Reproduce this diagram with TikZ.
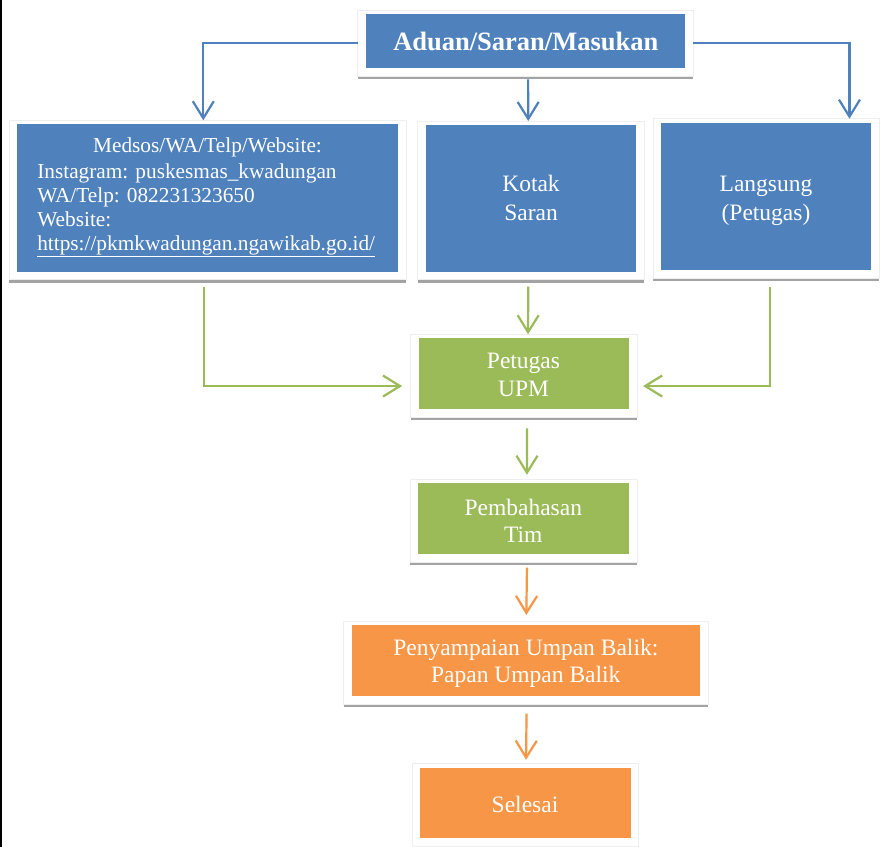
\documentclass[tikz,border=0pt]{standalone}
\usepackage{fontspec}
\setmainfont{Liberation Serif}
\usetikzlibrary{arrows.meta,fit}
\definecolor{cblue}{HTML}{4F81BD}
\definecolor{cgreen}{HTML}{9BBB59}
\definecolor{corange}{HTML}{F79646}
\definecolor{cshadow}{HTML}{A3A3A3}
\definecolor{cframe}{HTML}{EEEEEE}
\newcommand\mkpanel[6]{%
  \fill[cshadow] (#2-8,#5+8) rectangle (#4+8,#5+11);
  \node[panelframe, fit={(#2-8,#3-4) (#4+8,#5+8)}] (#1) {};
  \node[fill=#6, inner sep=0pt, outer sep=0pt, fit={(#2,#3) (#4,#5)}] (#1-fill) {};
}
\tikzset{
  panelframe/.style={draw=cframe, fill=white, line width=0.6bp, inner sep=0pt, outer sep=0pt},
  txt/.style={text=white, inner sep=0pt, outer sep=0pt},
  conn/.style={line width=2.2bp, -{Straight Barb[length=17bp,width=21bp]}},
  barrow/.style={conn, draw=cblue},
  garrow/.style={conn, draw=cgreen},
  oarrow/.style={conn, draw=corange},
}
\begin{document}
\begin{tikzpicture}[x=1bp,y=-1bp]
\useasboundingbox (0,0) rectangle (881,847);
\fill[white] (0,0) rectangle (881,847);
\draw[black, line width=1.6bp] (0.8,0) -- (0.8,847);

% panels: name, x1, y1, x2, y2 (fill area), colour
\mkpanel{top}{365.7}{14.3}{685}{68.3}{cblue}
\mkpanel{medsos}{17}{124.3}{398}{271.7}{cblue}
\mkpanel{kotak}{425.7}{125}{636}{271.7}{cblue}
\mkpanel{langsung}{661}{122.7}{871.3}{270.3}{cblue}
\mkpanel{upm}{418.5}{338.3}{629}{409.3}{cgreen}
\mkpanel{pemb}{418.3}{483.3}{629}{554.3}{cgreen}
\mkpanel{peny}{351.7}{625}{700}{696}{corange}
\mkpanel{sel}{420}{767.7}{630.7}{838.3}{corange}

% texts
\node[txt, anchor=base, font=\bfseries\fontsize{26.5bp}{30bp}\selectfont] (top-t) at (525.8,50) {Aduan/Saran/Masukan};
\node[txt, anchor=base, font=\fontsize{21.3bp}{24.1bp}\selectfont] (medsos-t1) at (207.5,152.7) {Medsos/WA/Telp/Website:};
\node[txt, anchor=base west, font=\fontsize{21.3bp}{24.1bp}\selectfont] (medsos-t2) at (37.3,178.3)
  {\begin{tabular}[t]{@{}l@{}}Instagram: puskesmas\_kwadungan\\WA/Telp: 082231323650\\Website:\\\underline{https://pkmkwadungan.ngawikab.go.id/}\end{tabular}};
\node[txt, anchor=base, font=\fontsize{23.5bp}{29bp}\selectfont] (kotak-t) at (531,191.7)
  {\begin{tabular}[t]{@{}c@{}}Kotak\\Saran\end{tabular}};
\node[txt, anchor=base, font=\fontsize{23.5bp}{29bp}\selectfont] (langsung-t) at (766,191)
  {\begin{tabular}[t]{@{}c@{}}Langsung\\(Petugas)\end{tabular}};
\node[txt, anchor=base, font=\fontsize{23.5bp}{28.5bp}\selectfont] (upm-t) at (523.5,368)
  {\begin{tabular}[t]{@{}c@{}}Petugas\\UPM\end{tabular}};
\node[txt, anchor=base, font=\fontsize{23.5bp}{27bp}\selectfont] (pemb-t) at (523.3,515)
  {\begin{tabular}[t]{@{}c@{}}Pembahasan\\Tim\end{tabular}};
\node[txt, anchor=base, font=\fontsize{23.5bp}{27.7bp}\selectfont] (peny-t) at (525.8,655)
  {\begin{tabular}[t]{@{}c@{}}Penyampaian Umpan Balik:\\Papan Umpan Balik\end{tabular}};
\node[txt, anchor=base, font=\fontsize{23.5bp}{28bp}\selectfont] (sel-t) at (525,812.7) {Selesai};

% blue connectors
\draw[barrow] (top.west) -| ([xshift=-4.2bp]medsos.north);
\draw[barrow] ([shift={(2.75,3)}]top.south) -- ([xshift=-2.6bp]kotak.north);
\draw[barrow] (top.east) -| ([xshift=83.3bp]langsung.north);

% green connectors
\draw[garrow] ([shift={(-3.5,7)}]medsos.south) |- ([shift={(-8.4,10.25)}]upm.west);
\draw[garrow] ([shift={(-2.6,7)}]kotak.south) -- ([xshift=4.3bp]upm.north);
\draw[garrow] ([shift={(4,9)}]langsung.south) |- ([shift={(6.1,10.25)}]upm.east);
\draw[garrow] ([shift={(3.3,11)}]upm.south) -- ([shift={(3.3,-4.5)}]pemb.north);

% orange connectors
\draw[oarrow] ([shift={(3.3,5.3)}]pemb.south) -- ([shift={(0.5,-6)}]peny.north);
\draw[oarrow] ([shift={(0.7,9.7)}]peny.south) -- ([shift={(0.7,-4)}]sel.north);
\end{tikzpicture}
\end{document}
